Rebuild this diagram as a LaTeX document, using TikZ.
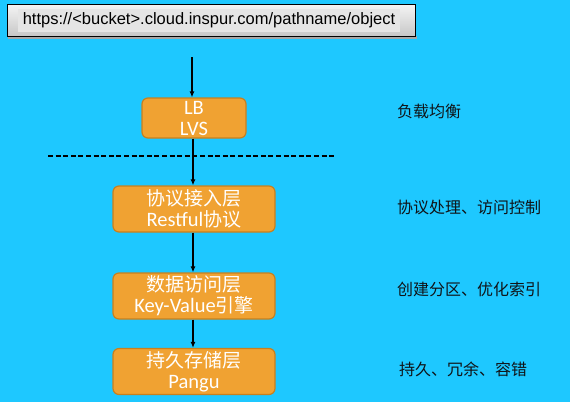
\documentclass[tikz,border=0pt]{standalone}
\usepackage{fontspec}
\setmainfont{Carlito}
\newfontfamily\cjk{Noto Sans CJK SC}
\newfontfamily\urlfont{Liberation Sans}
\usetikzlibrary{arrows.meta,shadows}
\definecolor{bgc}{HTML}{1EC8FF}
\definecolor{orng}{HTML}{F0A232}
\definecolor{orngd}{HTML}{C8801E}
\definecolor{txtd}{HTML}{101418}
\tikzset{
  layerbox/.style={rectangle, rounded corners=6pt, fill=orng, draw=orngd, line width=1.2pt,
    text=white, align=center, font=\fontsize{20.5}{21}\selectfont, inner sep=0pt},
  sidelabel/.style={anchor=west, text=txtd, font=\cjk\fontsize{16}{17}\selectfont, inner sep=0pt},
  flow/.style={draw=black, line width=1.3pt, -{Latex[length=6pt,width=5pt]}},
}
\newcommand{\zh}[1]{{\cjk\fontsize{19}{21}\selectfont #1}}
\begin{document}
\begin{tikzpicture}[x=1pt,y=-1pt]
\useasboundingbox (0,0) rectangle (570,402);
\fill[bgc] (0,0) rectangle (570,402);
% top url box
\fill[black!35] (8,36) rectangle (417,39);
\shade[top color=white!96!black, bottom color=black!22, draw=black, line width=1pt] (7,4) rectangle (415,36);
\node[rectangle, fill=black!10, minimum width=382pt, minimum height=23pt, inner sep=0pt,
  font=\urlfont\fontsize{16.5}{18}\selectfont] (url) at (209,20.5) {https://<bucket>.cloud.inspur.com/pathname/object};
\coordinate (urlbot) at (192,57);
% boxes
\node[layerbox, minimum width=104pt, minimum height=40pt] (lb) at (194,118) {LB\\LVS};
\node[layerbox, minimum width=162pt, minimum height=46pt] (pl) at (194,209) {\zh{协议接入层}\\Restful\zh{协议}};
\node[layerbox, minimum width=162pt, minimum height=46pt] (dl) at (194,296) {\zh{数据访问层}\\Key-Value\zh{引擎}};
\node[layerbox, minimum width=162pt, minimum height=46pt] (sl) at (194,371.5) {\zh{持久存储层}\\Pangu};
% dashed separator
\coordinate (dl1) at (48,156);
\coordinate (dl2) at (334,156);
\draw[black, line width=1.5pt, dash pattern=on 5pt off 2.6pt] (dl1) -- (dl2);
% arrows
\draw[flow] (urlbot) -- (urlbot |- lb.north);
\draw[flow] (lb.south -| 193,0) -- (pl.north -| 193,0);
\draw[flow] (pl.south -| 193,0) -- (dl.north -| 193,0);
\draw[flow] (dl.south -| 193,0) -- (sl.north -| 193,0);
% side labels
\node[sidelabel] (s1) at (397,111) {负载均衡};
\node[sidelabel] (s2) at (397,207) {协议处理、访问控制};
\node[sidelabel] (s3) at (397,289) {创建分区、优化索引};
\node[sidelabel] (s4) at (399,369) {持久、冗余、容错};
\end{tikzpicture}
\end{document}
